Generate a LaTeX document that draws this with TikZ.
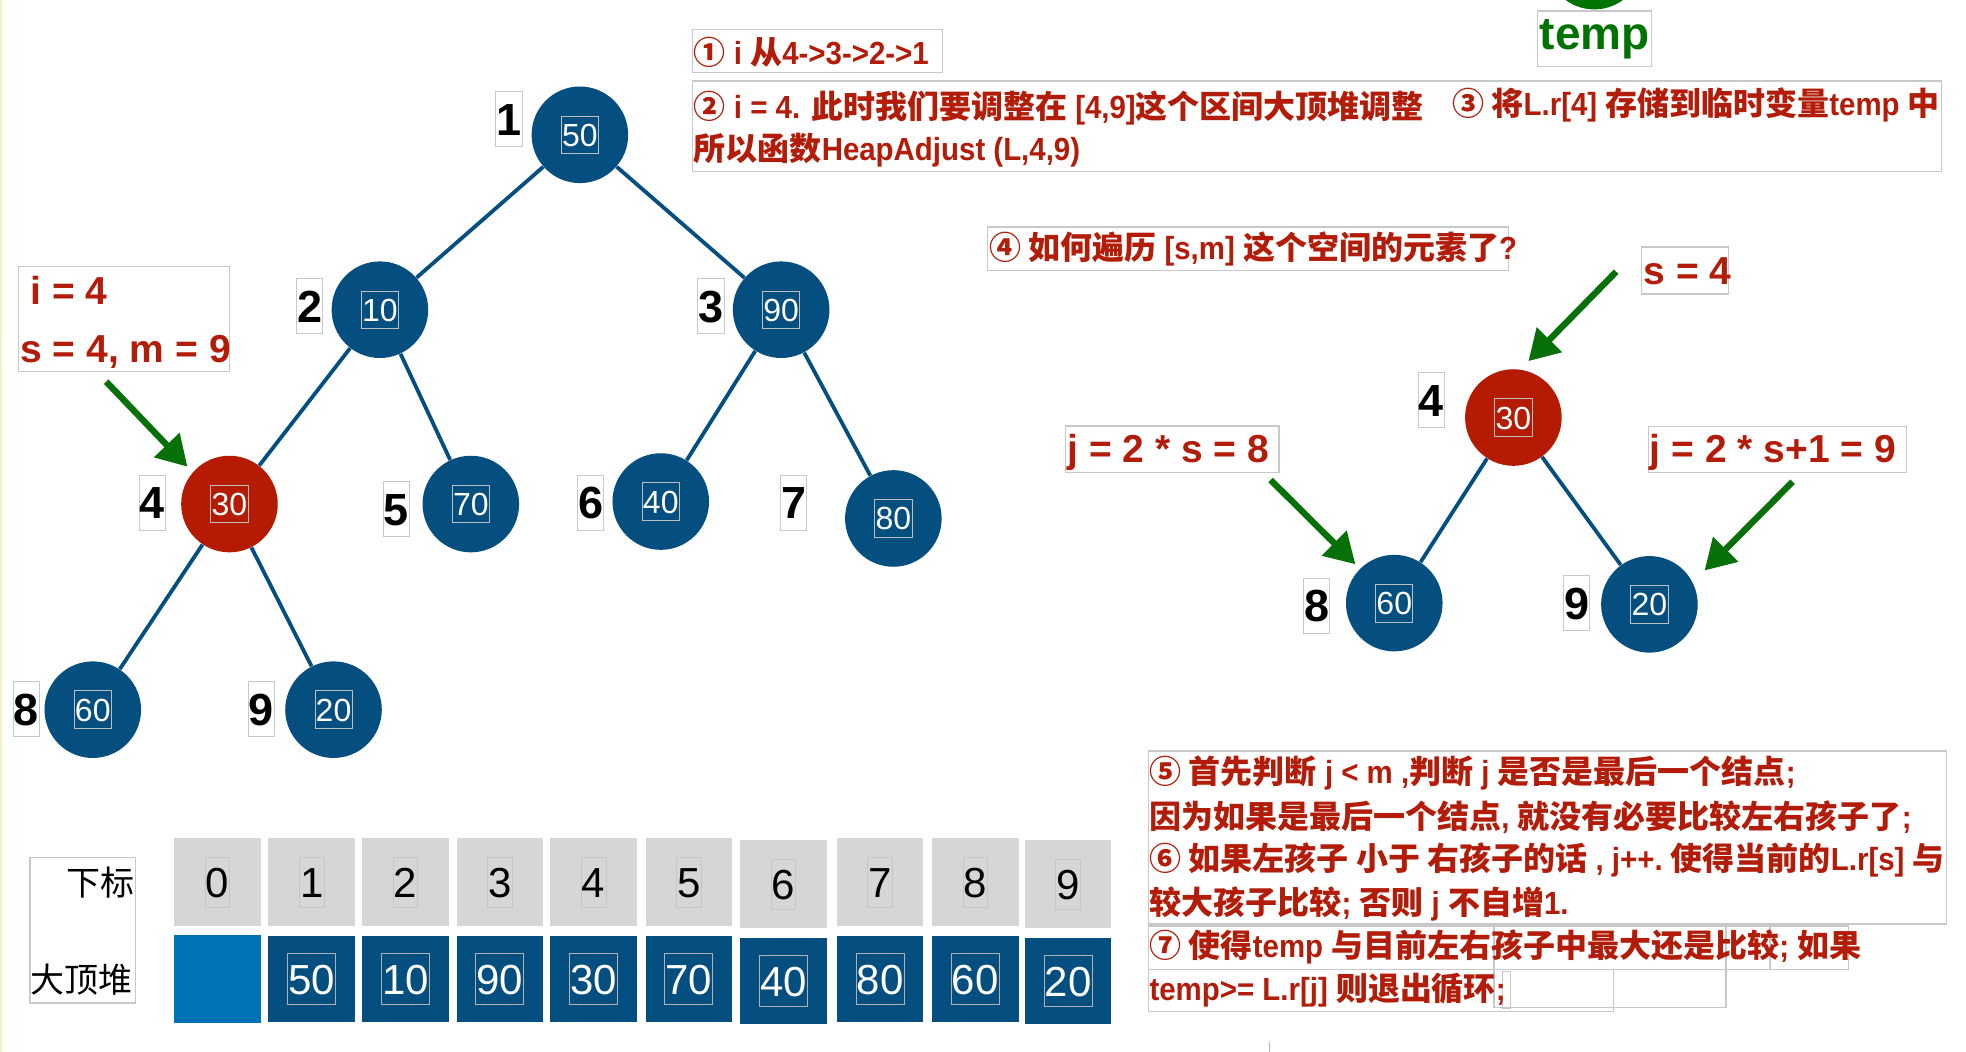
\documentclass[tikz,border=0pt]{standalone}
\usepackage{fontspec}
\setmainfont{Liberation Sans}
\newfontfamily\cjk{Noto Sans CJK SC}
\newfontfamily\rlat{Liberation Sans Bold}[FakeStretch=0.92]
\usetikzlibrary{arrows.meta}
\definecolor{nodeblue}{RGB}{4,78,128}
\definecolor{cellblue}{RGB}{0,115,184}
\definecolor{hred}{RGB}{181,26,2}
\definecolor{tred}{RGB}{178,28,8}
\definecolor{agreen}{RGB}{8,112,8}
\definecolor{tgreen}{RGB}{0,114,0}
\definecolor{boxgray}{RGB}{200,200,200}
\definecolor{hdrgray}{RGB}{214,214,214}
\definecolor{edgeyellow}{RGB}{250,240,200}
\newcommand\zh[1]{{\cjk\bfseries #1}}
\begin{document}
\begin{tikzpicture}[x=0.627pt,y=-0.627pt,
  hnode/.style={circle, fill=nodeblue, minimum size=48.3pt, inner sep=0pt},
  rnode/.style={hnode, fill=hred},
  val/.style={draw=gray!50, line width=0.4pt, text=white, font=\fontsize{16}{16}\selectfont, inner xsep=0.4pt, inner ysep=0pt, minimum height=18.8pt, text height=11.5pt, text depth=0pt},
  idx/.style={draw=boxgray, fill=white, line width=0.5pt, font=\fontsize{22.5}{22.5}\selectfont\bfseries, inner xsep=0.3pt, inner ysep=0pt, minimum height=27.6pt, text height=16.1pt, text depth=0pt},
  tedge/.style={draw=nodeblue, line width=1.9pt},
  garrow/.style={draw=agreen, line width=3.2pt, -{Triangle[length=15pt,width=17pt]}},
  tbox/.style={draw=boxgray, line width=0.6pt},
  rtxt/.style={text=tred, font=\fontsize{16}{19}\selectfont\rlat, inner sep=0pt, anchor=west},
  labtxt/.style={text=tred, font=\fontsize{19.5}{19.5}\selectfont\bfseries, inner sep=0pt, anchor=base west},
  hcell/.style={fill=hdrgray, minimum width=43.3pt, minimum height=44.2pt, inner sep=0pt, anchor=north west},
  vcell/.style={fill=nodeblue, minimum width=43.3pt, minimum height=43.3pt, inner sep=0pt, anchor=north west},
  hnum/.style={draw=gray!45, line width=0.4pt, font=\fontsize{21}{21}\selectfont, inner xsep=0.3pt, inner ysep=0pt, minimum height=25pt, text height=15pt, text depth=0pt},
  vnum/.style={hnum, draw=gray!60, text=white, minimum height=25.7pt},
]
\useasboundingbox (0,0) rectangle (1568,839);
\fill[white] (0,0) rectangle (1568,839);
\draw[edgeyellow, line width=1pt] (0.8,0) -- (0.8,839);

% green circle (cut off at top)
\begin{scope}
\clip (0,0) rectangle (1568,839);
\fill[tgreen] (1271.5,-31) circle (38.5);
\end{scope}

% ---------- left tree ----------
\node[hnode] (n1) at (462.5,107.5) {};
\node[hnode] (n2) at (303,247) {};
\node[hnode] (n3) at (623,247) {};
\node[rnode] (n4) at (183,402) {};
\node[hnode] (n5) at (375.5,402) {};
\node[hnode] (n6) at (527,400) {};
\node[hnode] (n7) at (712.5,413.5) {};
\node[hnode] (n8) at (74,566) {};
\node[hnode] (n9) at (266,566) {};
\draw[tedge] (n1) -- (n2);
\draw[tedge] (n1) -- (n3);
\draw[tedge] (n2) -- (n4);
\draw[tedge] (n2) -- (n5);
\draw[tedge] (n3) -- (n6);
\draw[tedge] (n3) -- (n7);
\draw[tedge] (n4) -- (n8);
\draw[tedge] (n4) -- (n9);
\node[val] (v1) at (n1) {50};
\node[val] (v2) at (n2) {10};
\node[val] (v3) at (n3) {90};
\node[val] (v4) at (n4) {30};
\node[val] (v5) at (n5) {70};
\node[val] (v6) at (n6) {40};
\node[val] (v7) at (n7) {80};
\node[val] (v8) at (n8) {60};
\node[val] (v9) at (n9) {20};
\node[idx] (l1) at (406,95) {1};
\node[idx] (l2) at (247,244) {2};
\node[idx] (l3) at (567,244) {3};
\node[idx] (l4) at (121.5,401) {4};
\node[idx] (l5) at (316,406) {5};
\node[idx] (l6) at (471,401) {6};
\node[idx] (l7) at (633,401) {7};
\node[idx] (l8) at (21,565.5) {8};
\node[idx] (l9) at (208.5,565.5) {9};

% i = 4 box
\draw[tbox] (15,212.7) rectangle (183,296.5);
\node[labtxt] (ti) at (24,243) {i = 4};
\node[labtxt] (tsm) at (16,289.5) {s = 4, m = 9};
\coordinate (a1s) at (84.7,304.4);
\coordinate (a1e) at (149.5,372.2);
\draw[garrow] (a1s) -- (a1e);

% ---------- top texts ----------
\draw[tbox] (552,23.4) rectangle (751.6,58);
\node[rtxt] (t1) at (553,42) {\zh{①} i \zh{从}4->3->2->1};
\draw[tbox] (552,64.6) rectangle (1548.4,137);
\node[rtxt] (t2) at (553,86.5) {\zh{②} i = 4. \zh{此时我们要调整在} [4,9]\zh{这个区间大顶堆调整}};
\node[rtxt] (t2b) at (553,119.5) {\zh{所以函数}HeapAdjust (L,4,9)};
\node[rtxt] (t3) at (1158,83.7) {\zh{③ 将}L.r[4] \zh{存储到临时变量}temp \zh{中}};
\node[draw=boxgray, line width=0.6pt, minimum width=57pt, minimum height=27.8pt, inner sep=0pt, text=tgreen, font=\fontsize{23}{23}\selectfont\bfseries] (temp) at (1272,31) {temp};
\draw[tbox] (787.6,181) rectangle (1203,216);
\node[rtxt] (t4) at (788.5,198.5) {\zh{④ 如何遍历} [s,m] \zh{这个空间的元素了}?};

% ---------- right tree ----------
\node[rnode] (r4) at (1207,333) {};
\node[hnode] (r8) at (1112,481) {};
\node[hnode] (r9) at (1315.5,482) {};
\draw[tedge] (r4) -- (r8);
\draw[tedge] (r4) -- (r9);
\node[val] (rv4) at (r4) {30};
\node[val] (rv8) at (r8) {60};
\node[val] (rv9) at (r9) {20};
\node[idx] (rl4) at (1141.5,319) {4};
\node[idx] (rl8) at (1050,483) {8};
\node[idx] (rl9) at (1257.5,481) {9};

\draw[tbox] (1309,197) rectangle (1378.5,234.5);
\node[labtxt] (ts4) at (1310.5,227) {s = 4};
\draw[tbox] (850,339.8) rectangle (1020,377);
\node[labtxt] (tj8) at (851,369) {j = 2 * s = 8};
\draw[tbox] (1314.8,340) rectangle (1520.5,377);
\node[labtxt] (tj9) at (1315.5,369) {j = 2 * s+1 = 9};
\coordinate (a2s) at (1289,216.7);
\coordinate (a2e) at (1219,288);
\draw[garrow] (a2s) -- (a2e);
\coordinate (a3s) at (1013.4,382.8);
\coordinate (a3e) at (1081,450);
\draw[garrow] (a3s) -- (a3e);
\coordinate (a4s) at (1429.7,384.2);
\coordinate (a4e) at (1359.5,455);
\draw[garrow] (a4s) -- (a4e);

% ---------- bottom-right texts ----------
\draw[tbox] (916,599) rectangle (1552.7,737);
\node[rtxt] (t5) at (916.5,616.8) {\zh{⑤ 首先判断} j < m ,\zh{判断} j \zh{是否是最后一个结点};};
\node[rtxt] (t5b) at (916.5,652) {\zh{因为如果是最后一个结点}, \zh{就没有必要比较左右孩子了};};
\node[rtxt] (t6) at (916.5,686) {\zh{⑥ 如果左孩子 小于 右孩子的话} , j++.\ \zh{使得当前的}L.r[s] \zh{与}};
\node[rtxt] (t6b) at (916.5,720.7) {\zh{较大孩子比较}; \zh{否则} j \zh{不自增}1.};
\draw[tbox] (916,738.6) rectangle (1474.5,773);
\draw[tbox] (916,773) rectangle (1287,807);
\draw[tbox] (1191.6,737.8) rectangle (1376.6,803.7);
\draw[tbox] (1411.7,738.6) -- (1411.7,773);
\draw[tbox] (1198,775) rectangle (1205,804);
\node[rtxt] (t7) at (916.5,755.6) {\zh{⑦ 使得}temp \zh{与目前左右孩子中最大还是比较}; \zh{如果}};
\node[rtxt] (t7b) at (916.5,789.6) {temp>= L.r[j] \zh{则退出循环};};
\draw[gray!60, line width=0.6pt] (1012.7,831) -- (1012.7,839);

% ---------- array table ----------
\draw[tbox] (24,684) rectangle (108,800);
\node[inner sep=0pt, anchor=east, font=\fontsize{17}{17}\selectfont] (hx) at (107.5,703.5) {{\cjk 下标}};
\node[inner sep=0pt, anchor=west, font=\fontsize{17}{17}\selectfont] (hv) at (24,781) {{\cjk 大顶堆}};
\foreach \i/\x/\dy in {0/138.5/0,1/213.8/0,2/288.5/0,3/363.8/0,4/438.6/0,5/514.5/0,6/590/1.6,7/667/0,8/743/0,9/817/1.6}{
  \node[hcell] (h\i) at (\x,668+\dy) {};
  \node[hnum] (hn\i) at (h\i.center) {\i};
  \node[vcell] (c\i) at (\x,746+\dy) {};
}
\fill[cellblue] (c0.north west) rectangle (c0.south east);
\foreach \i/\v in {1/50,2/10,3/90,4/30,5/70,6/40,7/80,8/60,9/20}{
  \node[vnum] (cv\i) at (c\i.center) {\v};
}
\end{tikzpicture}
\end{document}
